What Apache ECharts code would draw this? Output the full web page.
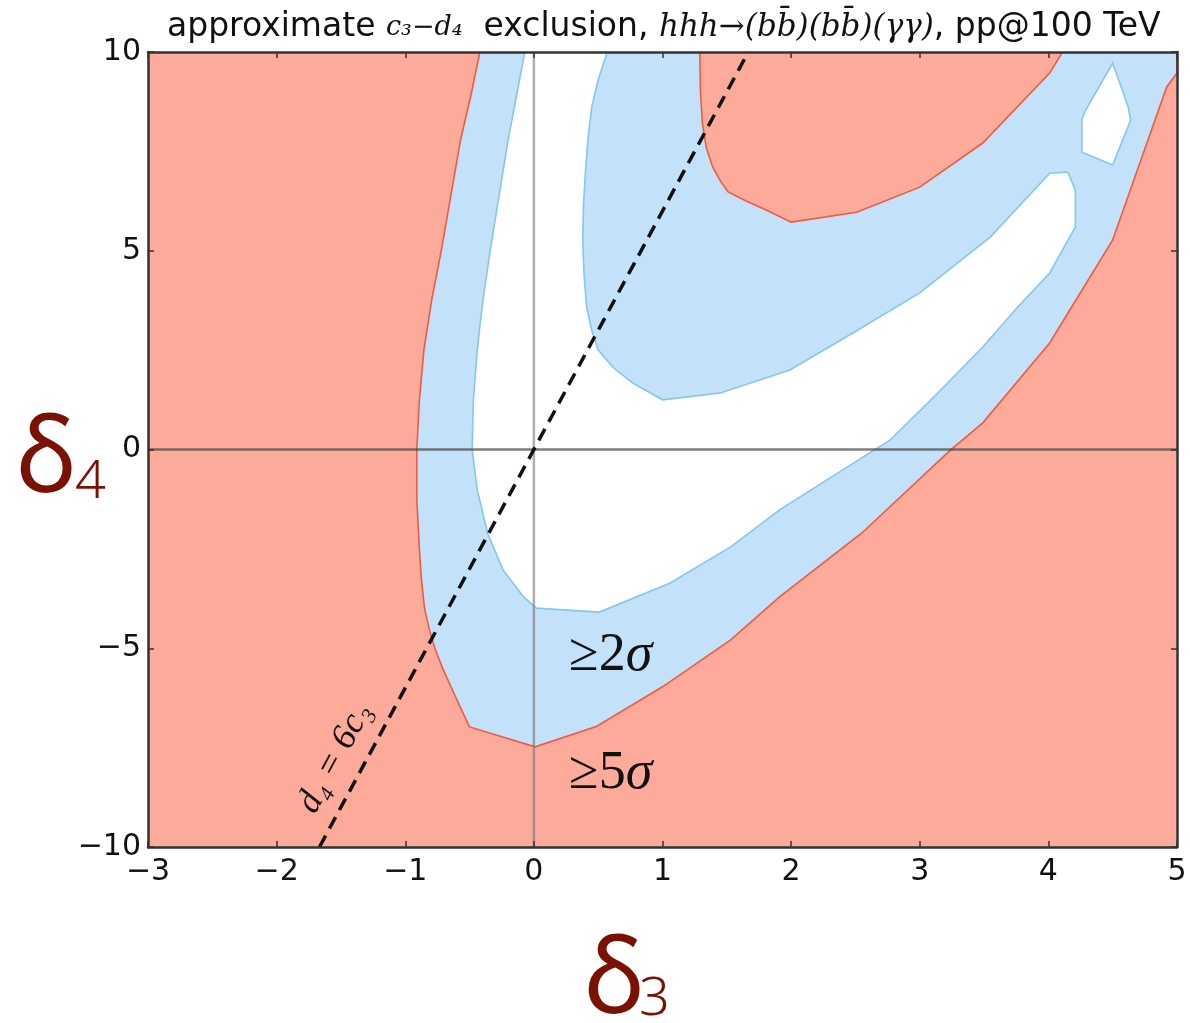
<!DOCTYPE html>
<html><head><meta charset="utf-8">
<script src="https://cdn.jsdelivr.net/npm/echarts/dist/echarts.min.js"></script>
<style>html,body{margin:0;padding:0;background:#fff}#c{width:1190px;height:1023px}</style>
</head><body><div id="c"></div>
<script>
// ---- tick values / labels ----
const xTicks = [-3, -2, -1, 0, 1, 2, 3, 4, 5];
const xTickLabels = ['\u22123', '\u22122', '\u22121', '0', '1', '2', '3', '4', '5'];
const yTicks = [-10, -5, 0, 5, 10];
const yTickLabels = ['\u221210', '\u22125', '0', '5', '10'];

// ---- outer edge of the >=2sigma band (the 5 sigma contour), delta3 / delta4 ----
const sigma5X = [-0.42, -0.49, -0.57, -0.645, -0.72, -0.795, -0.855, -0.89, -0.91, -0.91, -0.89, -0.875, -0.85, -0.815, -0.77, -0.71, -0.64, -0.57, -0.50, 0.01, 0.49, 1.00, 1.53, 1.91, 2.55, 3.24, 3.49, 4.01, 4.50, 4.92, 5.00, 5.00];
const sigma5Y = [10.0, 8.90, 7.79, 6.40, 5.00, 3.75, 2.50, 1.25, 0.00, -1.25, -2.50, -3.25, -4.00, -4.50, -5.00, -5.50, -6.00, -6.50, -6.98, -7.48, -6.96, -5.97, -4.79, -3.71, -2.10, -0.01, 0.67, 2.68, 5.27, 9.12, 9.47, 10.0];

// ---- upper >=5 sigma island ----
const islandX = [1.29, 1.295, 1.31, 1.34, 1.39, 1.45, 1.51, 1.65, 1.81, 2.00, 2.51, 3.00, 3.49, 4.01, 4.11];
const islandY = [10.0, 9.00, 8.21, 7.60, 7.11, 6.75, 6.48, 6.25, 6.02, 5.72, 5.97, 6.60, 7.71, 9.47, 10.0];

// ---- allowed (< 2 sigma) main region ----
const allowX = [-0.07, -0.135, -0.20, -0.27, -0.34, -0.385, -0.415, -0.44, -0.47, -0.48, -0.44, -0.36, -0.24, -0.08, 0.02, 0.51, 1.06, 1.53, 1.91, 2.77, 3.14, 3.49, 3.76, 4.01, 4.21, 4.21, 4.15, 4.01, 3.55, 3.00, 2.48, 1.99, 1.45, 1.00, 0.77, 0.62, 0.50, 0.45, 0.41, 0.39, 0.38, 0.385, 0.40, 0.42, 0.45, 0.50, 0.57];
const allowY = [10.0, 8.90, 7.79, 6.40, 5.00, 4.00, 3.25, 2.50, 1.25, 0.00, -1.02, -2.10, -3.03, -3.71, -3.99, -4.09, -3.36, -2.45, -1.52, 0.24, 1.42, 2.58, 3.58, 4.44, 5.60, 6.53, 6.98, 6.95, 5.35, 3.94, 2.93, 2.00, 1.42, 1.25, 1.67, 2.05, 2.50, 3.00, 3.58, 4.40, 5.27, 6.10, 6.95, 7.80, 8.62, 9.30, 10.0];

// ---- allowed small island (upper right) ----
const allow2X = [4.50, 4.62, 4.64, 4.50, 4.26, 4.26, 4.29];
const allow2Y = [9.72, 8.62, 8.29, 7.16, 7.48, 8.29, 8.54];

// ---- reference lines ----
const ratioLineX = [-1.667, 1.667];   // d4 = 6 c3
const ratioLineY = [-10, 10];
const zeroSpanX = [-3, 5];
const zeroSpanY = [-10, 10];

const RED = '#fcab9b', RED_EDGE = '#ef5a42', BLUE = '#c3e1f8', BLUE_EDGE = '#86c6ee';

function polygonSeries(xs, ys, fill, stroke, z) {
  return {
    type: 'custom', coordinateSystem: 'cartesian2d', clip: true, silent: true, z: z,
    data: xs.map((x, i) => [x, ys[i]]),
    renderItem: (params, api) => {
      if (params.dataIndex !== 0) return null;
      const pts = xs.map((x, i) => api.coord([x, ys[i]]));
      return { type: 'polygon', shape: { points: pts }, style: { fill: fill, stroke: stroke, lineWidth: 1.6 } };
    }
  };
}

const chart = echarts.init(document.getElementById('c'), null, { renderer: 'canvas' });
const tickFont = { fontFamily: 'DejaVu Sans', fontSize: 30, color: '#111' };
const xFmt = v => { const i = xTicks.indexOf(Math.round(v)); return i >= 0 ? xTickLabels[i] : ''; };
const yFmt = v => { const i = yTicks.indexOf(Math.round(v)); return i >= 0 ? yTickLabels[i] : ''; };
const frameLine = { show: true, onZero: false, lineStyle: { color: '#333', width: 2.5 } };
const tickStyle = { show: true, inside: true, length: 6, lineStyle: { color: '#333', width: 1.5 } };
const serif = { fontFamily: 'Liberation Serif', fontSize: 54, fill: '#111' };
const serifIt = { fontFamily: 'Liberation Serif', fontStyle: 'italic', fontSize: 54, fill: '#111' };

chart.setOption({
  animation: false,
  title: {
    text: '{n|approximate }{m|c\u2083\u2212d\u2084}{n|  exclusion, }{h|hhh\u2192(bb\u0304)(bb\u0304)(\u03b3\u03b3)}{n|, pp@100 TeV}',
    left: 162, top: 6,
    textStyle: {
      fontWeight: 'normal',
      rich: {
        n: { fontFamily: 'DejaVu Sans', fontWeight: 'normal', fontSize: 33, color: '#111' },
        m: { fontFamily: 'DejaVu Serif', fontWeight: 'normal', fontStyle: 'italic', fontSize: 27, color: '#111' },
        h: { fontFamily: 'DejaVu Serif', fontWeight: 'normal', fontStyle: 'italic', fontSize: 31, color: '#111' }
      }
    }
  },
  grid: { left: 148, right: 13, top: 52, bottom: 176, show: true, backgroundColor: RED, borderWidth: 0 },
  xAxis: [
    { type: 'value', min: -3, max: 5, interval: 1, position: 'bottom', z: 10,
      axisLine: frameLine, axisTick: tickStyle, splitLine: { show: false },
      axisLabel: Object.assign({ margin: 10, formatter: xFmt }, tickFont) },
    { type: 'value', min: -3, max: 5, interval: 1, position: 'top', z: 10,
      axisLine: frameLine, axisTick: tickStyle, splitLine: { show: false }, axisLabel: { show: false } }
  ],
  yAxis: [
    { type: 'value', min: -10, max: 10, interval: 5, position: 'left', z: 10,
      axisLine: frameLine, axisTick: tickStyle, splitLine: { show: false },
      axisLabel: Object.assign({ margin: 7, formatter: yFmt }, tickFont) },
    { type: 'value', min: -10, max: 10, interval: 5, position: 'right', z: 10,
      axisLine: frameLine, axisTick: tickStyle, splitLine: { show: false }, axisLabel: { show: false } }
  ],
  series: [
    polygonSeries(sigma5X, sigma5Y, BLUE, RED_EDGE, 2),
    polygonSeries(islandX, islandY, RED, RED_EDGE, 3),
    polygonSeries(allowX, allowY, '#ffffff', BLUE_EDGE, 4),
    polygonSeries(allow2X, allow2Y, '#ffffff', BLUE_EDGE, 4),
    { type: 'line', z: 5, silent: true, symbol: 'none', data: zeroSpanY.map(y => [0, y]),
      lineStyle: { color: 'rgba(110,110,110,0.55)', width: 2.5 } },
    { type: 'line', z: 5, silent: true, symbol: 'none', data: zeroSpanX.map(x => [x, 0]),
      lineStyle: { color: 'rgba(70,70,70,0.7)', width: 2.5 } },
    { type: 'line', z: 6, silent: true, symbol: 'none', data: ratioLineX.map((x, i) => [x, ratioLineY[i]]),
      lineStyle: { color: '#111', width: 3.5, type: [13, 8] } }
  ],
  graphic: [
    { type: 'text', left: 16, top: 410, z: 20, style: { text: '\u03b4', fontFamily: 'Noto Sans', fontSize: 104, fill: '#7a1204' } },
    { type: 'text', left: 75, top: 456, z: 20, style: { text: '4', fontFamily: 'Noto Sans', fontWeight: 300, fontSize: 54, fill: '#7a1204' } },
    { type: 'text', left: 584, top: 931, z: 20, style: { text: '\u03b4', fontFamily: 'Noto Sans', fontSize: 104, fill: '#7a1204' } },
    { type: 'text', left: 639, top: 973, z: 20, style: { text: '3', fontFamily: 'Noto Sans', fontWeight: 300, fontSize: 54, fill: '#7a1204' } },
    { type: 'text', left: 569, top: 629, z: 20, style: { text: '{a|\u22652}{b|\u03c3}', rich: { a: serif, b: serifIt } } },
    { type: 'text', left: 569, top: 747, z: 20, style: { text: '{a|\u22655}{b|\u03c3}', rich: { a: serif, b: serifIt } } },
    { type: 'text', x: 335, y: 758, rotation: 61.7 * Math.PI / 180, z: 20,
      style: { text: 'd\u2084 = 6c\u2083', fontFamily: 'Liberation Serif', fontStyle: 'italic', fontSize: 36, fill: '#111', align: 'center', verticalAlign: 'middle' } }
  ]
});
</script></body></html>
